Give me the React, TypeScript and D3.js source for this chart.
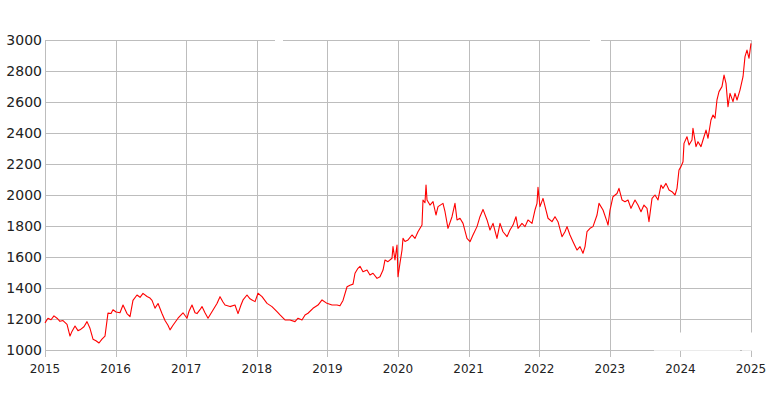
import React from "react";
import * as d3 from "d3";

const years: number[] = [
  2015.000, 2015.042, 2015.085, 2015.127, 2015.170, 2015.212, 2015.255, 2015.312, 2015.354, 2015.382,
  2015.425, 2015.467, 2015.496, 2015.552, 2015.595, 2015.637, 2015.680, 2015.722, 2015.765, 2015.807,
  2015.850, 2015.892, 2015.935, 2015.963, 2016.006, 2016.062, 2016.105, 2016.161, 2016.204, 2016.246,
  2016.303, 2016.346, 2016.388, 2016.445, 2016.487, 2016.516, 2016.558, 2016.601, 2016.657, 2016.700,
  2016.742, 2016.771, 2016.813, 2016.884, 2016.955, 2017.011, 2017.040, 2017.082, 2017.125, 2017.153,
  2017.195, 2017.224, 2017.266, 2017.309, 2017.380, 2017.436, 2017.479, 2017.521, 2017.550, 2017.620,
  2017.691, 2017.734, 2017.776, 2017.805, 2017.861, 2017.904, 2017.932, 2017.975, 2018.017, 2018.074,
  2018.145, 2018.215, 2018.286, 2018.329, 2018.399, 2018.470, 2018.541, 2018.584, 2018.640, 2018.683,
  2018.725, 2018.796, 2018.867, 2018.924, 2018.994, 2019.065, 2019.136, 2019.178, 2019.221, 2019.278,
  2019.320, 2019.363, 2019.391, 2019.433, 2019.462, 2019.504, 2019.561, 2019.603, 2019.646, 2019.703,
  2019.745, 2019.788, 2019.816, 2019.858, 2019.915, 2019.929, 2019.957, 2019.986, 2020.000, 2020.028,
  2020.057, 2020.071, 2020.099, 2020.142, 2020.198, 2020.241, 2020.283, 2020.340, 2020.354, 2020.382,
  2020.397, 2020.411, 2020.453, 2020.496, 2020.538, 2020.567, 2020.637, 2020.666, 2020.708, 2020.765,
  2020.807, 2020.836, 2020.878, 2020.921, 2020.977, 2021.020, 2021.062, 2021.119, 2021.161, 2021.204,
  2021.261, 2021.303, 2021.346, 2021.402, 2021.445, 2021.487, 2021.544, 2021.586, 2021.629, 2021.671,
  2021.700, 2021.756, 2021.799, 2021.841, 2021.898, 2021.940, 2021.969, 2021.983, 2022.011, 2022.054,
  2022.096, 2022.125, 2022.181, 2022.224, 2022.266, 2022.323, 2022.365, 2022.394, 2022.436, 2022.479,
  2022.535, 2022.578, 2022.620, 2022.649, 2022.677, 2022.720, 2022.762, 2022.819, 2022.847, 2022.904,
  2022.960, 2022.975, 2023.003, 2023.045, 2023.102, 2023.130, 2023.173, 2023.215, 2023.258, 2023.300,
  2023.357, 2023.399, 2023.442, 2023.484, 2023.527, 2023.555, 2023.598, 2023.640, 2023.683, 2023.725,
  2023.754, 2023.796, 2023.839, 2023.881, 2023.924, 2023.952, 2023.980, 2024.008, 2024.037, 2024.051,
  2024.093, 2024.122, 2024.164, 2024.178, 2024.221, 2024.249, 2024.292, 2024.320, 2024.363, 2024.391,
  2024.433, 2024.462, 2024.490, 2024.518, 2024.547, 2024.589, 2024.618, 2024.646, 2024.674, 2024.703,
  2024.745, 2024.773, 2024.802, 2024.844, 2024.887, 2024.915, 2024.943, 2024.972, 2025.000,
];

const prices: number[] = [
  1175, 1205, 1195, 1220, 1205, 1185, 1190, 1165, 1090, 1120,
  1155, 1125, 1130, 1150, 1183, 1140, 1070, 1060, 1045, 1070,
  1090, 1238, 1235, 1260, 1245, 1240, 1290, 1235, 1215, 1320,
  1355, 1340, 1365, 1345, 1335, 1320, 1270, 1300, 1235, 1190,
  1160, 1130, 1160, 1205, 1240, 1205, 1250, 1290, 1240, 1235,
  1260, 1280, 1240, 1205, 1258, 1300, 1344, 1310, 1290, 1280,
  1290, 1235, 1290, 1323, 1355, 1330, 1323, 1312, 1366, 1344,
  1301, 1280, 1247, 1226, 1194, 1194, 1183, 1205, 1194, 1226,
  1237, 1269, 1290, 1323, 1301, 1290, 1290, 1285, 1320, 1408,
  1418, 1425, 1495, 1527, 1540, 1505, 1516, 1484, 1495, 1462,
  1473, 1516, 1581, 1570, 1592, 1667, 1581, 1677, 1473, 1560,
  1645, 1720, 1700, 1710, 1742, 1720, 1763, 1806, 1968, 1950,
  2064, 1968, 1935, 1957, 1871, 1925, 1946, 1892, 1785, 1860,
  1946, 1839, 1850, 1817, 1720, 1699, 1742, 1796, 1860, 1907,
  1839, 1774, 1817, 1720, 1817, 1763, 1731, 1774, 1806, 1860,
  1785, 1817, 1796, 1839, 1817, 1903, 1946, 2049, 1925, 1978,
  1903, 1850, 1828, 1860, 1828, 1731, 1763, 1796, 1742, 1699,
  1645, 1667, 1624, 1667, 1763, 1785, 1796, 1871, 1946, 1903,
  1828, 1806, 1903, 1989, 2010, 2043, 1968, 1957, 1968, 1914,
  1968, 1935, 1892, 1935, 1914, 1828, 1978, 2000, 1968, 2064,
  2043, 2075, 2032, 2021, 2000, 2043, 2161, 2183, 2215, 2333,
  2376, 2323, 2355, 2430, 2312, 2344, 2312, 2355, 2419, 2366,
  2484, 2516, 2495, 2613, 2667, 2699, 2774, 2720, 2570, 2656,
  2602, 2656, 2613, 2677, 2763, 2893, 2935, 2882, 2978,
];

const xTicks: number[] = [2015, 2016, 2017, 2018, 2019, 2020, 2021, 2022, 2023, 2024, 2025];
const yTicks: number[] = [1000, 1200, 1400, 1600, 1800, 2000, 2200, 2400, 2600, 2800, 3000];

const W = 770;
const H = 410;
const left = 45;
const right = 751;
const top = 40;
const bottom = 350;

export default function App() {
  const x = d3.scaleLinear().domain([2015, 2025]).range([left, right]);
  const y = d3.scaleLinear().domain([1000, 3000]).range([bottom, top]);
  const pts: [number, number][] = years.map((t, i) => [t, prices[i]]);
  const line = d3
    .line<[number, number]>()
    .x((d) => x(d[0]))
    .y((d) => y(d[1]));
  const grid = "#bdbdbd";
  const font = "'DejaVu Sans', sans-serif";

  return (
    <svg
      width={W}
      height={H}
      style={{ position: "fixed", left: 0, top: 0, background: "#fff" }}
    >
      <rect x={0} y={0} width={W} height={H} fill="#fff" />
      {yTicks.map((v) => (
        <line
          key={"h" + v}
          x1={left}
          x2={right}
          y1={Math.round(y(v)) + 0.5}
          y2={Math.round(y(v)) + 0.5}
          stroke={grid}
          strokeWidth={1}
        />
      ))}
      {xTicks.map((t) => (
        <line
          key={"v" + t}
          x1={Math.round(x(t)) + 0.5}
          x2={Math.round(x(t)) + 0.5}
          y1={top}
          y2={bottom + 7}
          stroke={grid}
          strokeWidth={1}
        />
      ))}
      {yTicks.map((v) => (
        <text
          key={"yl" + v}
          x={42}
          y={y(v)}
          dy="0.36em"
          textAnchor="end"
          fontFamily={font}
          fontSize={14}
          fill="#222"
        >
          {v}
        </text>
      ))}
      {xTicks.map((t) => (
        <text
          key={"xl" + t}
          x={x(t)}
          y={372.5}
          textAnchor="middle"
          fontFamily={font}
          fontSize={12}
          fill="#222"
        >
          {String(t)}
        </text>
      ))}
      <path
        d={line(pts) || ""}
        fill="none"
        stroke="#ff0000"
        strokeWidth={1.1}
        strokeLinejoin="round"
      />
      <rect x={275} y={38} width={8} height={4} fill="#fff" />
      <rect x={590} y={38} width={11} height={4} fill="#fff" />
      <rect x={654} y={332.5} width={86} height={18.2} fill="#fff" />
      <rect x={742} y={332.5} width={11} height={18.2} fill="#fff" />
    </svg>
  );
}
